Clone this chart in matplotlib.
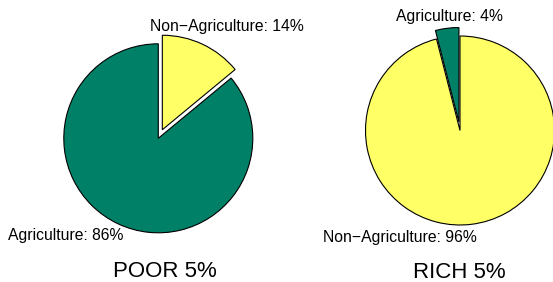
import matplotlib
matplotlib.use("Agg")
import matplotlib.pyplot as plt

categories = ["Non\u2212Agriculture", "Agriculture"]
poor_values = [14, 86]
rich_values = [96, 4]
titles = ["POOR 5%", "RICH 5%"]
colors = {"Non\u2212Agriculture": "#FFFF66", "Agriculture": "#008066"}

plt.rcParams["font.family"] = ["Liberation Sans", "DejaVu Sans"]

W, H = 553, 282
fig = plt.figure(figsize=(W / 100, H / 100), dpi=100)
R = 94.5   # pixel radius
half = 130

def make_ax(cx, cy_top):
    cy = H - cy_top
    ax = fig.add_axes([(cx - half) / W, (cy - half) / H, 2 * half / W, 2 * half / H])
    return ax

def fix_limits(ax):
    lim = half / R
    ax.set_xlim(-lim, lim)
    ax.set_ylim(-lim, lim)
    ax.set_aspect("equal")
    ax.axis("off")

# pie specs: (values, center px, explode, label positions in radius units, title px)
specs = [
    (poor_values, (158.3, 138.3), [0.1, 0.0],
     {"Non\u2212Agriculture": (-0.088, 1.135), "Agriculture": (-1.59, -1.076)}, (164.5, 277.0)),
    (rich_values, (460.0, 130.5), [0.0, 0.09],
     {"Non\u2212Agriculture": (-1.447, -1.177), "Agriculture": (-0.677, 1.162)}, (459.7, 277.5)),
]

for (vals, (cx, cy), explode, labpos, (tx, ty)), title in zip(specs, titles):
    ax = make_ax(cx, cy)
    total = sum(vals)
    ax.pie(vals, explode=explode, colors=[colors[c] for c in categories],
           startangle=90, counterclock=False, radius=1.0,
           wedgeprops=dict(edgecolor="black", linewidth=0.8))
    fix_limits(ax)
    for c, v in zip(categories, vals):
        x, y = labpos[c]
        ax.text(x, y, f"{c}: {round(100 * v / total)}%", ha="left", va="baseline",
                fontsize=11.3, clip_on=False)
    fig.text(tx / W, 1 - ty / H, title, ha="center", va="baseline", fontsize=16.0)

fig.savefig("out.png", dpi=100)
